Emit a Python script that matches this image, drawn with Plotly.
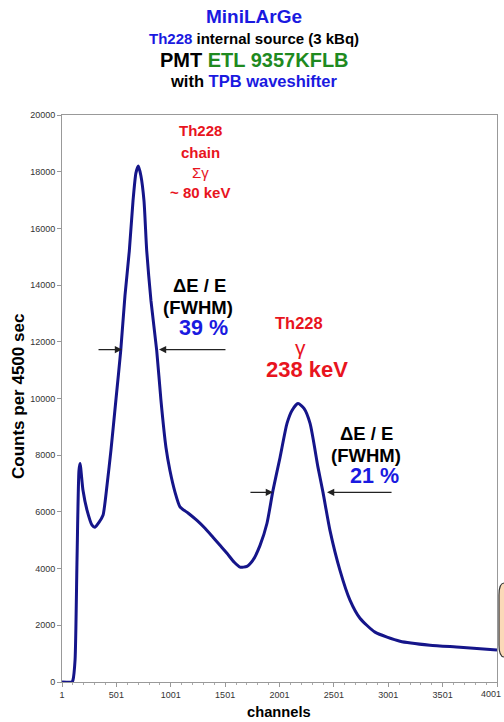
import plotly.graph_objects as go

# ---- data ----
channels = [1, 93, 102, 121, 139, 157, 167, 194, 231, 277, 304, 341, 378, 415, 451, 498,
            541, 580, 620, 654, 681, 703, 727, 755, 780, 819, 872, 911, 957, 994, 1040,
            1086, 1160, 1242, 1316, 1389, 1454, 1518, 1583, 1638, 1702, 1757, 1822, 1886,
            1941, 2006, 2070, 2116, 2171, 2226, 2282, 2355, 2401, 2465, 2557, 2649, 2741,
            2879, 3109, 3385, 3661, 4001]
counts = [0, 0, 70, 775, 4300, 7460, 7710, 6760, 6060, 5530, 5460, 5630, 5880, 6940, 8170, 10000,
          11690, 13630, 15210, 16970, 17960, 18200, 17850, 16970, 15210, 13450, 11690, 9930, 8270, 7450, 6700,
          6180, 5960, 5700, 5420, 5105, 4820, 4540, 4230, 4050, 4080, 4300, 4820, 5600,
          6760, 7920, 9120, 9580, 9820, 9650, 9120, 7570, 6690, 5350, 3940, 2890, 2250,
          1760, 1440, 1300, 1230, 1130]

x_ticks = [1, 501, 1001, 1501, 2001, 2501, 3001, 3501, 4001]
y_ticks = [0, 2000, 4000, 6000, 8000, 10000, 12000, 14000, 16000, 18000, 20000]

# FWHM arrows: (tail_x, head_x, y)
fwhm1 = [(323, 553, 11725), (1518, 893, 11725)]
fwhm2 = [(1720, 1941, 6690), (3045, 2438, 6690)]

FONT = "Liberation Sans, Arial, sans-serif"
RED = "#e8141e"
BLUE = "#1a1ae0"
GREEN = "#1f8a1f"
NAVY = "#15158a"

fig = go.Figure()
fig.add_trace(go.Scatter(x=channels, y=counts, mode="lines",
                         line=dict(color=NAVY, width=3, shape="spline", smoothing=0.6),
                         hoverinfo="skip"))

L, R, T, B = 62, 7, 115, 40
W, H = 504, 722
pw, ph = W - L - R, H - T - B

def px(x):
    return (x - L) / pw

def py(y):
    return (H - B - y) / ph

anns = []

def txt(text, x, y, size, color="black", bold=True, xanchor="center"):
    if bold:
        text = "<b>" + text + "</b>"
    anns.append(dict(text=text, x=px(x), y=py(y), xref="paper", yref="paper",
                     showarrow=False, xanchor=xanchor, yanchor="middle",
                     font=dict(family=FONT, size=size, color=color)))

# title block
txt("MiniLArGe", 254, 17, 19, BLUE)
txt("<span style='color:%s'>Th228</span> internal source (3 kBq)" % BLUE, 254, 38, 15)
txt("PMT <span style='color:%s'>ETL 9357KFLB</span>" % GREEN, 254, 60, 20)
txt("with <span style='color:%s'>TPB waveshifter</span>" % BLUE, 254, 81, 16.5)

# peak 1 labels
txt("Th228", 200, 130, 15, RED)
txt("chain", 200, 152, 15, RED)
txt("Σγ", 200, 172, 15, RED, bold=False)
txt("~ 80 keV", 200, 192, 15, RED)
txt("ΔE / E", 199, 285, 18.5)
txt("(FWHM)", 198, 307, 18.5)
txt("39 %", 203, 328, 21.5, BLUE)

# peak 2 labels
txt("Th228", 299, 323, 16.5, RED)
txt("γ", 300, 347, 21, RED, bold=False)
txt("238 keV", 307, 369, 22, RED)
txt("ΔE / E", 366, 433, 18.5)
txt("(FWHM)", 366, 455, 18.5)
txt("21 %", 374, 476, 21.5, BLUE)

# axis titles
txt("channels", 279, 712, 14.7)
anns.append(dict(text="<b>Counts per 4500 sec</b>", x=px(18), y=py(397), xref="paper", yref="paper",
                 showarrow=False, textangle=-90, xanchor="center", yanchor="middle",
                 font=dict(family=FONT, size=17, color="black")))

# last x tick label kept inside the page
anns.append(dict(text=str(x_ticks[-1]), x=px(503), y=py(694), xref="paper", yref="paper",
                 showarrow=False, xanchor="right", yanchor="middle",
                 font=dict(family=FONT, size=9, color="#333333")))

for tail, head, yv in fwhm1 + fwhm2:
    anns.append(dict(x=head, y=yv, ax=tail, ay=yv, xref="x", yref="y", axref="x", ayref="y",
                     text="", showarrow=True, arrowhead=2, arrowsize=1.2, arrowwidth=1.2,
                     arrowcolor="#222222"))

fig.update_layout(
    width=W, height=H, margin=dict(l=L, r=R, t=T, b=B, autoexpand=False),
    paper_bgcolor="white", plot_bgcolor="white",
    showlegend=False, annotations=anns,
    font=dict(family=FONT),
)
fig.update_xaxes(range=[1, 4001], tickvals=x_ticks,
                 ticktext=[str(v) for v in x_ticks[:-1]] + [""],
                 showgrid=False, zeroline=False, showline=True, linecolor="#999999", linewidth=1,
                 mirror=True, ticks="outside", ticklen=4, tickcolor="#999999", automargin=False,
                 minor=dict(dtick=100, tick0=1, ticks="outside", ticklen=2, tickcolor="#aaaaaa"),
                 tickfont=dict(family=FONT, size=9, color="#333333"))
fig.update_yaxes(range=[0, 20000], tickvals=y_ticks, ticktext=[str(v) for v in y_ticks],
                 showgrid=False, zeroline=False, showline=True, linecolor="#999999", linewidth=1,
                 mirror=True, ticks="outside", ticklen=4, tickcolor="#999999", automargin=False,
                 tickfont=dict(family=FONT, size=9, color="#333333"))

# partially visible text box at the right edge
x0 = 1 + 2 / pw
fig.add_shape(type="path", xref="paper", yref="paper",
              path="M %f %f L %f %f Q %f %f %f %f L %f %f Q %f %f %f %f L %f %f Z" % (
                  x0 + 0.06, py(583), x0 + 0.012, py(583), x0, py(583), x0, py(595),
                  x0, py(645), x0, py(657), x0 + 0.012, py(657), x0 + 0.06, py(657)),
              line=dict(color="#333333", width=1.2), fillcolor="#fbd9b8", layer="above")

fig.write_html("out.html")
